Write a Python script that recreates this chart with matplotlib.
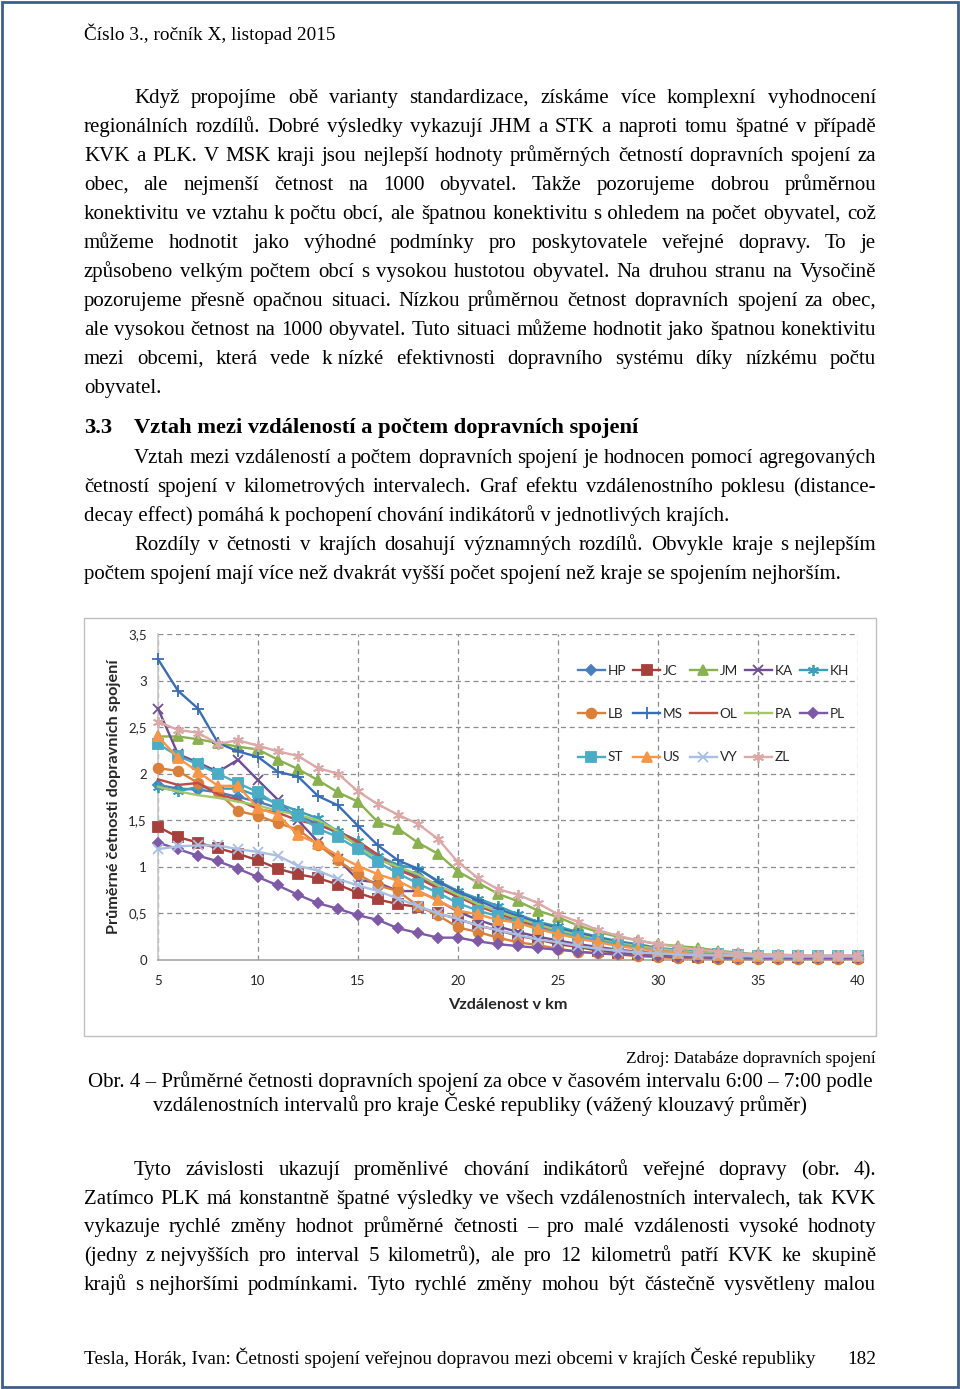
import matplotlib
matplotlib.use("Agg")
import matplotlib.pyplot as plt
from matplotlib.font_manager import FontProperties
from matplotlib.patches import Rectangle

W, H = 960, 1389

# --- chart data ---
km = list(range(5, 41))
regions = ["HP", "JC", "JM", "KA", "KH", "LB", "MS", "OL", "PA", "PL", "ST", "US", "VY", "ZL"]

hp = [1.88, 1.84, 1.83, 1.80, 1.75, 1.70, 1.63, 1.55, 1.46, 1.36, 1.24, 1.10, 0.98, 0.90, 0.80, 0.70, 0.60, 0.52,
      0.45, 0.38, 0.32, 0.27, 0.22, 0.18, 0.15, 0.12, 0.10, 0.08, 0.06, 0.05, 0.04, 0.04, 0.03, 0.03, 0.03, 0.03]
jc = [1.43, 1.32, 1.26, 1.20, 1.14, 1.07, 0.98, 0.92, 0.88, 0.81, 0.72, 0.65, 0.60, 0.57, 0.50, 0.44, 0.37, 0.32,
      0.26, 0.22, 0.17, 0.14, 0.10, 0.08, 0.06, 0.05, 0.04, 0.03, 0.03, 0.03, 0.03, 0.03, 0.03, 0.03, 0.03, 0.03]
jm = [2.40, 2.40, 2.37, 2.33, 2.29, 2.26, 2.15, 2.05, 1.93, 1.80, 1.70, 1.48, 1.41, 1.26, 1.14, 0.95, 0.83, 0.71,
      0.63, 0.53, 0.46, 0.37, 0.30, 0.25, 0.21, 0.17, 0.15, 0.13, 0.10, 0.08, 0.06, 0.05, 0.05, 0.04, 0.04, 0.04]
ka = [2.70, 2.21, 2.12, 2.02, 2.15, 1.93, 1.72, 1.50, 1.27, 1.08, 0.86, 0.83, 0.74, 0.74, 0.64, 0.52, 0.43, 0.36,
      0.30, 0.25, 0.21, 0.17, 0.14, 0.11, 0.09, 0.07, 0.06, 0.05, 0.04, 0.03, 0.03, 0.03, 0.02, 0.02, 0.02, 0.02]
kh = [1.86, 1.81, 1.86, 1.84, 1.84, 1.76, 1.68, 1.60, 1.52, 1.38, 1.28, 1.12, 1.02, 0.98, 0.85, 0.74, 0.66, 0.58,
      0.49, 0.41, 0.36, 0.30, 0.25, 0.20, 0.17, 0.13, 0.11, 0.09, 0.08, 0.06, 0.05, 0.05, 0.04, 0.04, 0.04, 0.03]
lb = [2.06, 2.03, 1.90, 1.80, 1.60, 1.55, 1.47, 1.40, 1.24, 1.07, 0.92, 0.80, 0.74, 0.58, 0.48, 0.35, 0.30, 0.24,
      0.19, 0.16, 0.12, 0.09, 0.07, 0.06, 0.04, 0.03, 0.02, 0.02, 0.01, 0.01, 0.01, 0.01, 0.01, 0.01, 0.01, 0.01]
ms = [3.23, 2.89, 2.70, 2.33, 2.24, 2.18, 2.02, 1.97, 1.76, 1.66, 1.44, 1.23, 1.07, 0.98, 0.84, 0.73, 0.64, 0.55,
      0.47, 0.40, 0.34, 0.29, 0.24, 0.19, 0.16, 0.12, 0.10, 0.08, 0.06, 0.05, 0.04, 0.04, 0.03, 0.03, 0.03, 0.03]
ol = [1.94, 1.88, 1.90, 1.78, 1.72, 1.62, 1.58, 1.50, 1.45, 1.38, 1.27, 1.13, 0.97, 0.88, 0.77, 0.68, 0.58, 0.50,
      0.42, 0.36, 0.31, 0.26, 0.21, 0.17, 0.14, 0.11, 0.09, 0.07, 0.06, 0.05, 0.04, 0.04, 0.03, 0.03, 0.03, 0.03]
pa = [1.86, 1.81, 1.77, 1.74, 1.70, 1.66, 1.60, 1.56, 1.50, 1.38, 1.22, 1.08, 1.00, 0.92, 0.80, 0.70, 0.60, 0.52,
      0.45, 0.38, 0.32, 0.27, 0.22, 0.18, 0.15, 0.12, 0.10, 0.08, 0.07, 0.05, 0.05, 0.04, 0.04, 0.04, 0.04, 0.04]
pl = [1.26, 1.19, 1.12, 1.06, 0.98, 0.89, 0.80, 0.70, 0.61, 0.55, 0.48, 0.43, 0.34, 0.29, 0.24, 0.24, 0.20, 0.17,
      0.15, 0.13, 0.11, 0.09, 0.07, 0.06, 0.05, 0.04, 0.03, 0.03, 0.02, 0.02, 0.02, 0.02, 0.02, 0.02, 0.02, 0.02]
st = [2.32, 2.19, 2.10, 2.00, 1.90, 1.80, 1.66, 1.55, 1.41, 1.32, 1.19, 1.05, 0.93, 0.82, 0.72, 0.61, 0.53, 0.47,
      0.40, 0.34, 0.30, 0.25, 0.21, 0.17, 0.13, 0.10, 0.08, 0.07, 0.06, 0.05, 0.04, 0.04, 0.04, 0.04, 0.04, 0.04]
us = [2.40, 2.17, 2.02, 1.87, 1.87, 1.63, 1.56, 1.34, 1.25, 1.12, 1.01, 0.92, 0.85, 0.74, 0.64, 0.53, 0.49, 0.43,
      0.40, 0.33, 0.28, 0.23, 0.19, 0.15, 0.12, 0.10, 0.08, 0.06, 0.05, 0.04, 0.04, 0.04, 0.04, 0.04, 0.04, 0.04]
vy = [1.19, 1.22, 1.23, 1.23, 1.19, 1.16, 1.12, 1.01, 0.96, 0.87, 0.80, 0.74, 0.66, 0.58, 0.50, 0.44, 0.37, 0.32,
      0.27, 0.22, 0.19, 0.15, 0.12, 0.10, 0.08, 0.07, 0.06, 0.05, 0.05, 0.05, 0.04, 0.04, 0.04, 0.04, 0.04, 0.04]
zl = [2.56, 2.47, 2.44, 2.32, 2.36, 2.30, 2.24, 2.19, 2.06, 2.00, 1.81, 1.67, 1.56, 1.46, 1.30, 1.05, 0.88, 0.76,
      0.70, 0.61, 0.49, 0.41, 0.32, 0.26, 0.21, 0.17, 0.14, 0.11, 0.09, 0.07, 0.06, 0.06, 0.05, 0.05, 0.05, 0.05]
series = [hp, jc, jm, ka, kh, lb, ms, ol, pa, pl, st, us, vy, zl]

colors = ["#4A7EBB", "#A5403D", "#8AB14F", "#6F4F91", "#3C9FB8", "#D9813A", "#3B6DB5",
          "#BE4B48", "#A5C768", "#7D59A6", "#4BACC6", "#F79646", "#A9BFE3", "#DBA9A8"]
markers = ["D", "s", "^", "x", (6, 2, 0), "o", "+", None, None, "D", "s", "^", "x", (6, 2, 0)]
msizes = [5, 7, 7, 7, 8, 7, 8, 0, 0, 5.5, 7, 7, 7, 8]

y_ticks = [0, 0.5, 1, 1.5, 2, 2.5, 3, 3.5]
y_labels = ["0", "0,5", "1", "1,5", "2", "2,5", "3", "3,5"]
x_ticks = [5, 10, 15, 20, 25, 30, 35, 40]

# --- page text ---
header = "Číslo 3., ročník X, listopad 2015"
para1 = [
    "Když propojíme obě varianty standardizace, získáme více komplexní vyhodnocení",
    "regionálních rozdílů. Dobré výsledky vykazují JHM a STK a naproti tomu špatné v případě",
    "KVK a PLK. V MSK kraji jsou nejlepší hodnoty průměrných četností dopravních spojení za",
    "obec, ale nejmenší četnost na 1000 obyvatel. Takže pozorujeme dobrou průměrnou",
    "konektivitu ve vztahu k\u00a0počtu obcí, ale špatnou konektivitu s\u00a0ohledem na počet obyvatel, což",
    "můžeme hodnotit jako výhodné podmínky pro poskytovatele veřejné dopravy. To je",
    "způsobeno velkým počtem obcí s vysokou hustotou obyvatel. Na druhou stranu na Vysočině",
    "pozorujeme přesně opačnou situaci. Nízkou průměrnou četnost dopravních spojení za obec,",
    "ale vysokou četnost na 1000 obyvatel. Tuto situaci můžeme hodnotit jako špatnou konektivitu",
    "mezi obcemi, která vede k\u00a0nízké efektivnosti dopravního systému díky nízkému počtu",
    "obyvatel.",
]
heading_num = "3.3"
heading = "Vztah mezi vzdáleností a počtem dopravních spojení"
para2 = [
    "Vztah mezi vzdáleností a počtem dopravních spojení je hodnocen pomocí agregovaných",
    "četností spojení v kilometrových intervalech. Graf efektu vzdálenostního poklesu (distance-",
    "decay effect) pomáhá k pochopení chování indikátorů v jednotlivých krajích.",
]
para3 = [
    "Rozdíly v četnosti v krajích dosahují významných rozdílů. Obvykle kraje s\u00a0nejlepším",
    "počtem spojení mají více než dvakrát vyšší počet spojení než kraje se spojením nejhorším.",
]
source = "Zdroj: Databáze dopravních spojení"
caption1 = "Obr. 4 – Průměrné četnosti dopravních spojení za obce v časovém intervalu 6:00 – 7:00 podle"
caption2 = "vzdálenostních intervalů pro kraje České republiky (vážený klouzavý průměr)"
para4 = [
    "Tyto závislosti ukazují proměnlivé chování indikátorů veřejné dopravy (obr. 4).",
    "Zatímco PLK má konstantně špatné výsledky ve všech vzdálenostních intervalech, tak KVK",
    "vykazuje rychlé změny hodnot průměrné četnosti – pro malé vzdálenosti vysoké hodnoty",
    "(jedny z\u00a0nejvyšších pro interval 5 kilometrů), ale pro 12 kilometrů patří KVK ke skupině",
    "krajů s\u00a0nejhoršími podmínkami. Tyto rychlé změny mohou být částečně vysvětleny malou",
]
footer = "Tesla, Horák, Ivan: Četnosti spojení veřejnou dopravou mezi obcemi v krajích České republiky"
page_no = "182"

SERIF = "Liberation Serif"
BODY = 15.0

fig = plt.figure(figsize=(W / 100, H / 100), dpi=100)
renderer = fig.canvas.get_renderer()


def put(x, y, s, **kw):
    kw.setdefault("family", SERIF)
    kw.setdefault("size", BODY)
    kw.setdefault("va", "baseline")
    return fig.text(x / W, 1 - y / H, s, **kw)


def justified(x0, x1, y, line, size=BODY, weight="normal"):
    words = line.split(" ")
    prop = FontProperties(family=SERIF, size=size, weight=weight)
    widths = [renderer.get_text_width_height_descent(w, prop, ismath=False)[0] for w in words]
    gap = (x1 - x0 - sum(widths)) / (len(words) - 1)
    x = x0
    for w, wd in zip(words, widths):
        put(x, y, w, size=size, weight=weight)
        x += wd + gap


def paragraph(lines, y0, step=29, left=84, right=876, indent=134, last_full=False):
    for i, line in enumerate(lines):
        x0 = indent if i == 0 else left
        y = y0 + i * step
        if i == len(lines) - 1 and not last_full:
            put(x0, y, line)
        else:
            justified(x0, right, y, line)


put(84, 40, header, size=13.9)
paragraph(para1, 103)
put(84, 433, heading_num, weight="bold", size=16.2)
put(134, 433, heading, weight="bold", size=16.2)
paragraph(para2, 463)
paragraph(para3, 550)

# chart frame
fig.add_artist(Rectangle((84 / W, 1 - 1036 / H), 792 / W, 418 / H, transform=fig.transFigure,
                         fill=False, edgecolor="#BFBFBF", linewidth=1))
# page border
fig.add_artist(Rectangle((0.002, 0.0015), 0.996, 0.997, transform=fig.transFigure,
                         fill=False, edgecolor="#3E5F8A", linewidth=2))

ax = fig.add_axes([158 / W, 1 - 960 / H, 700 / W, 326 / H])
for name, vals, c, m, s in zip(regions, series, colors, markers, msizes):
    ax.plot(km, vals, color=c, marker=m, markersize=s, linewidth=1.7,
            markeredgewidth=1.3, label=name, clip_on=False, zorder=3)

ax.set_xlim(5, 40)
ax.set_ylim(0, 3.5)
ax.set_xticks(x_ticks)
ax.set_yticks(y_ticks)
ax.set_yticklabels(y_labels)
ax.tick_params(axis="y", length=0, labelsize=9.5, colors="#262626", pad=8)
ax.tick_params(axis="x", length=0, labelsize=9.5, colors="#262626", pad=11)
for lab in ax.get_xticklabels() + ax.get_yticklabels():
    lab.set_family("Lato")
ax.grid(True, color="#8C8C8C", linestyle=(0, (4, 3)), linewidth=0.9)
for side in ["top", "right"]:
    ax.spines[side].set_visible(False)
ax.spines["left"].set_color("#C8C8C8")
ax.spines["bottom"].set_color("#A6A6A6")
ax.spines["left"].set_linewidth(1.2)
ax.spines["bottom"].set_linewidth(1.2)
ax.set_axisbelow(True)

ax.set_xlabel("Vzdálenost v km", family="Lato", weight="bold", size=11.7, color="#262626")
ax.set_ylabel("Průměrné četnosti dopravních spojení", family="Lato", weight="bold", size=11.7, color="#262626")
ax.xaxis.set_label_coords(0.5, -38 / 326)
ax.yaxis.set_label_coords(-37 / 700, 0.5)

# legend: 3 rows x 5 columns, filled row by row
handles, labels = ax.get_legend_handles_labels()
order = [0, 5, 10, 1, 6, 11, 2, 7, 12, 3, 8, 13, 4, 9]
leg = ax.legend([handles[i] for i in order], [labels[i] for i in order], ncol=5,
                loc="upper left", bbox_to_anchor=(0.59, (960 - 658) / 326), frameon=False,
                prop=FontProperties(family="Lato", size=9.8), labelspacing=2.3,
                handlelength=2.0, handletextpad=0.2, columnspacing=0.5, borderpad=0)
for t in leg.get_texts():
    t.set_color("#262626")

put(876, 1063, source, size=12.5, ha="right")
put(88, 1087, caption1, size=15.0)
put(153, 1111, caption2, size=15.0)
paragraph(para4, 1175, step=28.7, last_full=True)

put(84, 1364, footer, size=13.9)
put(876, 1364, page_no, size=13.9, ha="right")

fig.savefig("out.png", dpi=100)
